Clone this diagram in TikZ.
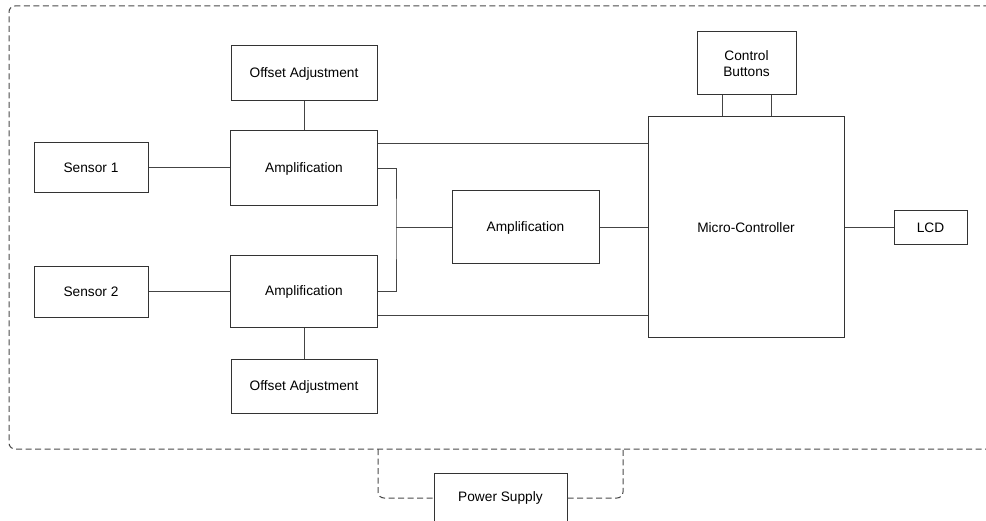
\documentclass[tikz,border=0pt]{standalone}
\usepackage{fontspec}
\setmainfont{Liberation Sans}
\usetikzlibrary{calc}
\definecolor{boxline}{HTML}{333333}
\definecolor{wire}{HTML}{444444}
\definecolor{frame}{HTML}{4A4A4A}
\begin{document}
\begin{tikzpicture}[x=1pt,y=-1pt,
  blk/.style={draw=boxline, line width=1pt, fill=white, inner sep=0pt,
    align=center, font=\fontsize{13.7}{16}\selectfont},
  wireline/.style={draw=wire, line width=1pt},
  framedash/.style={draw=frame, line width=1pt, dash pattern=on 6pt off 3.5pt, rounded corners=6pt}]
\useasboundingbox (0,0) rectangle (986,521);
\clip (0,0) rectangle (986,521);

% enclosure of the measuring unit
\draw[framedash] (1010,449) -- (9,449) -- (9,6) -- (1010,6);

% blocks
\node[blk, minimum width=146pt, minimum height=55pt] (off1) at (304,73.5) {Offset Adjustment};
\node[blk, minimum width=114pt, minimum height=50pt] (s1) at (91,168) {Sensor 1};
\node[blk, minimum width=147pt, minimum height=75pt] (amp1) at (304,168.5) {Amplification};
\node[blk, minimum width=147pt, minimum height=73pt] (ampm) at (525.5,227.5) {Amplification};
\node[blk, minimum width=114pt, minimum height=51pt] (s2) at (91,292) {Sensor 2};
\node[blk, minimum width=147pt, minimum height=72pt] (amp2) at (304,291.5) {Amplification};
\node[blk, minimum width=146pt, minimum height=54pt] (off2) at (304,387) {Offset Adjustment};
\node[blk, minimum width=99pt, minimum height=63pt] (cb) at (746.5,63.5) {Control\\Buttons};
\node[blk, minimum width=196pt, minimum height=221pt] (mc) at (746,227.5) {Micro-Controller};
\node[blk, minimum width=73pt, minimum height=34pt] (lcd) at (930.5,228) {LCD};
\node[blk, minimum width=133pt, minimum height=50pt] (ps) at (500.5,498) {Power Supply};

% connections
\coordinate (jx) at (396,228);
\draw[wireline] (s1.east) -- (s1.east -| amp1.west);
\draw[wireline] (s2.east) -- (s2.east -| amp2.west);
\draw[wireline] (off1.south) -- (amp1.north);
\draw[wireline] (amp2.south) -- (off2.north);
\draw[wireline] (amp1.east |- 0,144) -- (mc.west |- 0,144);
\draw[wireline] (amp2.east |- 0,316) -- (mc.west |- 0,316);
\draw[wireline] (amp1.east |- 0,169) -| (jx) |- (amp2.east |- 0,292);
\draw[wireline] (jx) -- (jx -| ampm.west);
\draw[wireline] (ampm.east) -- (ampm.east -| mc.west);
\draw[wireline] (mc.east |- lcd.west) -- (lcd.west);
\draw[wireline] (cb.south -| 722,0) -- (mc.north -| 722,0);
\draw[wireline] (cb.south -| 771,0) -- (mc.north -| 771,0);

% supply lines into the enclosure
\draw[framedash] (378,449) -- (378,498) -- (ps.west);
\draw[framedash] (ps.east) -- (623,498) -- (623,449);
\end{tikzpicture}
\end{document}
